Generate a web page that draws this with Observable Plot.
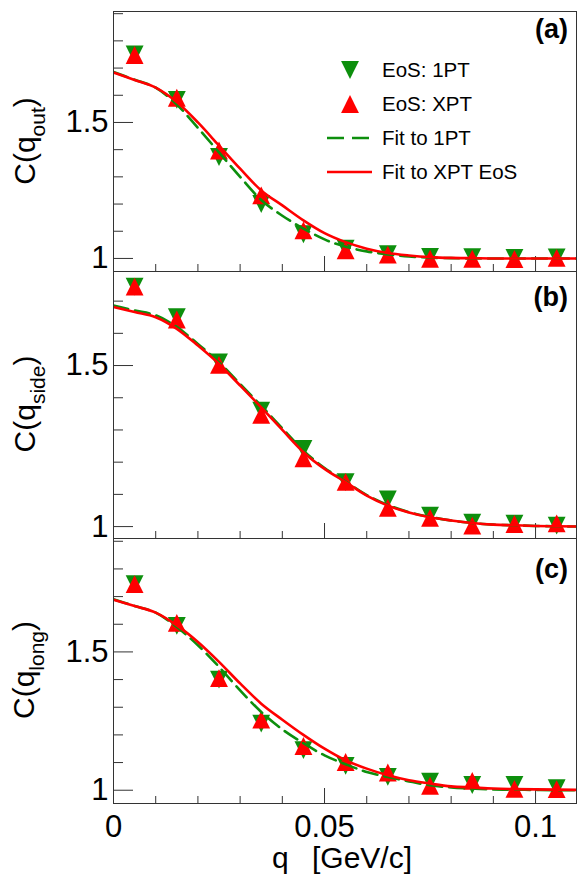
<!DOCTYPE html>
<html><head><meta charset="utf-8">
<script src="https://cdn.jsdelivr.net/npm/d3@7"></script>
<script src="https://cdn.jsdelivr.net/npm/@observablehq/plot@0.6"></script>
<style>
body{margin:0;background:#fff;}
#chart{position:relative;width:578px;height:882px;font-family:"Liberation Sans",Arial,sans-serif;}
#chart svg{position:absolute;left:0;overflow:visible;}
</style></head><body><div id="chart"></div>
<script>
// ---- data ----
const q = [0.005, 0.015, 0.025, 0.035, 0.045, 0.055, 0.065, 0.075, 0.085, 0.095, 0.105];
const outPT1 = [1.750, 1.583, 1.373, 1.200, 1.089, 1.036, 1.016, 1.006, 1.005, 1.002, 1.004];
const outXPT = [1.748, 1.591, 1.397, 1.232, 1.103, 1.030, 1.014, 0.999, 0.999, 0.998, 1.002];
const sidePT1 = [1.745, 1.650, 1.510, 1.360, 1.241, 1.138, 1.084, 1.034, 1.012, 1.009, 1.003];
const sideXPT = [1.745, 1.643, 1.502, 1.347, 1.212, 1.139, 1.058, 1.027, 1.003, 1.008, 1.010];
const longPT1 = [1.745, 1.594, 1.400, 1.241, 1.145, 1.088, 1.048, 1.031, 1.019, 1.019, 1.007];
const longXPT = [1.745, 1.605, 1.405, 1.255, 1.160, 1.102, 1.064, 1.016, 1.034, 1.005, 1.004];

const qFit = [0, 0.005, 0.01, 0.015, 0.02, 0.025, 0.03, 0.035, 0.04, 0.045, 0.05, 0.055,
              0.06, 0.065, 0.07, 0.075, 0.08, 0.085, 0.09, 0.095, 0.1, 0.105, 0.11];
const outFit1PT = [1.686,1.657,1.628,1.566,1.480,1.390,1.300,1.215,1.157,1.110,1.070,1.043,1.026,1.015,1.007,1.003,1.001,1.000,1.000,1.000,1.000,1.000,1.000];
const outFitXPT = [1.684,1.656,1.628,1.575,1.500,1.415,1.330,1.250,1.195,1.140,1.093,1.060,1.036,1.020,1.011,1.005,1.002,1.001,1.000,1.000,1.000,1.000,1.000];
const sideFit1PT = [1.686,1.671,1.656,1.620,1.567,1.510,1.443,1.375,1.305,1.236,1.182,1.140,1.098,1.067,1.045,1.030,1.019,1.011,1.006,1.004,1.002,1.001,1.000];
const sideFitXPT = [1.682,1.666,1.650,1.614,1.562,1.505,1.438,1.370,1.300,1.231,1.179,1.138,1.096,1.065,1.044,1.029,1.019,1.011,1.006,1.004,1.002,1.001,1.000];
const longFit1PT = [1.690,1.666,1.642,1.590,1.524,1.446,1.361,1.283,1.220,1.170,1.126,1.094,1.066,1.048,1.032,1.018,1.010,1.006,1.003,1.002,1.001,1.000,1.000];
const longFitXPT = [1.689,1.666,1.642,1.596,1.536,1.464,1.386,1.313,1.255,1.200,1.150,1.108,1.078,1.054,1.036,1.024,1.014,1.010,1.006,1.004,1.003,1.002,1.001];

const yMajor = [1, 1.5];
const yMinor = [1.1, 1.2, 1.3, 1.4, 1.6, 1.7, 1.8, 1.9];
const xMajor = [0, 0.05, 0.1];
const xMinor = [0.01, 0.02, 0.03, 0.04, 0.06, 0.07, 0.08, 0.09];
const legendLabels = ["EoS: 1PT", "EoS: XPT", "Fit to 1PT", "Fit to XPT EoS"];

// ---- style ----
const green = "#0d8f0d", red = "#ff0000";
const FONT = "Liberation Sans, Arial, Helvetica, sans-serif";
const xDomain = [0, 0.1097];

const triUp = {draw(ctx, size) {const w = Math.sqrt(size) * 1.55, h = w;
  ctx.moveTo(0, -h / 2); ctx.lineTo(w / 2, h / 2); ctx.lineTo(-w / 2, h / 2); ctx.closePath();}};
const triDown = {draw(ctx, size) {const w = Math.sqrt(size) * 1.55, h = w;
  ctx.moveTo(0, h / 2); ctx.lineTo(w / 2, -h / 2); ctx.lineTo(-w / 2, -h / 2); ctx.closePath();}};
const R = 6.5;

const chart = document.getElementById("chart");

function makePanel(cfg) {
  const pts1 = q.map((v, i) => ({q: v, c: cfg.pt1[i]}));
  const ptsx = q.map((v, i) => ({q: v, c: cfg.xpt[i]}));
  const fit1 = qFit.map((v, i) => ({q: v, c: cfg.fit1[i]}));
  const fitx = qFit.map((v, i) => ({q: v, c: cfg.fitx[i]}));
  const inDom = (t) => t >= cfg.yDomain[0] && t <= cfg.yDomain[1];
  const svg = Plot.plot({
    width: 578, height: cfg.height,
    marginLeft: 113, marginRight: 2, marginTop: cfg.marginTop, marginBottom: cfg.marginBottom,
    style: {fontFamily: FONT, color: "black", background: "transparent", overflow: "visible"},
    x: {domain: xDomain},
    y: {domain: cfg.yDomain},
    marks: [
      Plot.axisY(yMinor.filter(inDom), {tickSize: -10, fill: "none", label: null, stroke: "#333"}),
      Plot.axisY(yMajor, {tickSize: -20, fill: "none", label: null, stroke: "#333"}),
      Plot.axisY(yMajor, {tickSize: 0, tickPadding: 5, fontSize: 31, stroke: "none", tickFormat: d => String(d), label: null}),
      Plot.axisX(xMinor, {anchor: "bottom", tickSize: -7, fill: "none", label: null, stroke: "#333"}),
      Plot.axisX(xMajor, {anchor: "bottom", tickSize: -15, fill: "none", label: null, stroke: "#333"}),
      cfg.showX ? Plot.axisX(xMajor, {anchor: "bottom", tickSize: 0, tickPadding: 11, fontSize: 31, stroke: "none", tickFormat: d => String(d), label: null}) : null,
      Plot.dot(pts1, {x: "q", y: "c", symbol: triDown, r: R, fill: green, stroke: "none"}),
      Plot.dot(ptsx, {x: "q", y: "c", symbol: triUp, r: R, fill: red, stroke: "none"}),
      Plot.line(fit1, {x: "q", y: "c", stroke: green, strokeWidth: 2.6, strokeDasharray: "15,7", curve: "monotone-x", clip: true}),
      Plot.line(fitx, {x: "q", y: "c", stroke: red, strokeWidth: 2.6, curve: "monotone-x", clip: true}),
      Plot.frame({stroke: "#333", strokeWidth: 1})
    ]
  });
  svg.style.top = cfg.top + "px";
  chart.appendChild(svg);
  const s = d3.select(svg);
  // y title with subscript
  const t = s.append("text")
    .attr("transform", `translate(${cfg.titleX},${cfg.titleY - cfg.top}) rotate(-90)`)
    .attr("text-anchor", "middle").attr("font-size", 30).attr("fill", "black");
  t.append("tspan").text("C(q");
  t.append("tspan").attr("dy", 10).attr("font-size", 21).text(cfg.sub);
  t.append("tspan").attr("dy", -10).attr("font-size", 30).text(")");
  // panel letter
  s.append("text").attr("x", 568).attr("y", cfg.letterY - cfg.top)
    .attr("text-anchor", "end").attr("font-weight", "bold").attr("font-size", 27)
    .attr("fill", "black").text(cfg.letter);
  return s;
}

const a = makePanel({top: 0, height: 271, marginTop: 11, marginBottom: 0, yDomain: [0.952, 1.908],
  pt1: outPT1, xpt: outXPT, fit1: outFit1PT, fitx: outFitXPT, sub: "out", letter: "(a)",
  letterY: 38, titleX: 35, titleY: 141, showX: false});
makePanel({top: 271, height: 267, marginTop: 0, marginBottom: 0, yDomain: [0.963, 1.792],
  pt1: sidePT1, xpt: sideXPT, fit1: sideFit1PT, fitx: sideFitXPT, sub: "side", letter: "(b)",
  letterY: 306, titleX: 35, titleY: 404, showX: false});
const c = makePanel({top: 538, height: 344, marginTop: 0, marginBottom: 79, yDomain: [0.952, 1.91],
  pt1: longPT1, xpt: longXPT, fit1: longFit1PT, fitx: longFitXPT, sub: "long", letter: "(c)",
  letterY: 578, titleX: 34, titleY: 670, showX: true});

// x title
const xt = c.append("text").attr("y", 868 - 538).attr("font-size", 30).attr("fill", "black")
  .attr("text-anchor", "start");
xt.append("tspan").attr("x", 272).text("q");
xt.append("tspan").attr("x", 312).text("[GeV/c]");

// legend (panel a)
const sym = d3.symbol().size(Math.PI * R * R);
const lg = a.append("g").attr("font-size", 20.5).attr("fill", "black").attr("text-anchor", "start");
lg.append("path").attr("transform", "translate(350,70)").attr("d", sym.type(triDown)()).attr("fill", green);
lg.append("path").attr("transform", "translate(350,104)").attr("d", sym.type(triUp)()).attr("fill", red);
lg.append("line").attr("x1", 327).attr("x2", 372).attr("y1", 138).attr("y2", 138)
  .attr("stroke", green).attr("stroke-width", 2.6).attr("stroke-dasharray", "17,8");
lg.append("line").attr("x1", 327).attr("x2", 372).attr("y1", 172).attr("y2", 172)
  .attr("stroke", red).attr("stroke-width", 2.6);
[77, 111, 145, 179].forEach((y, i) => {
  lg.append("text").attr("x", 382).attr("y", y).text(legendLabels[i]);
});
</script></body></html>
